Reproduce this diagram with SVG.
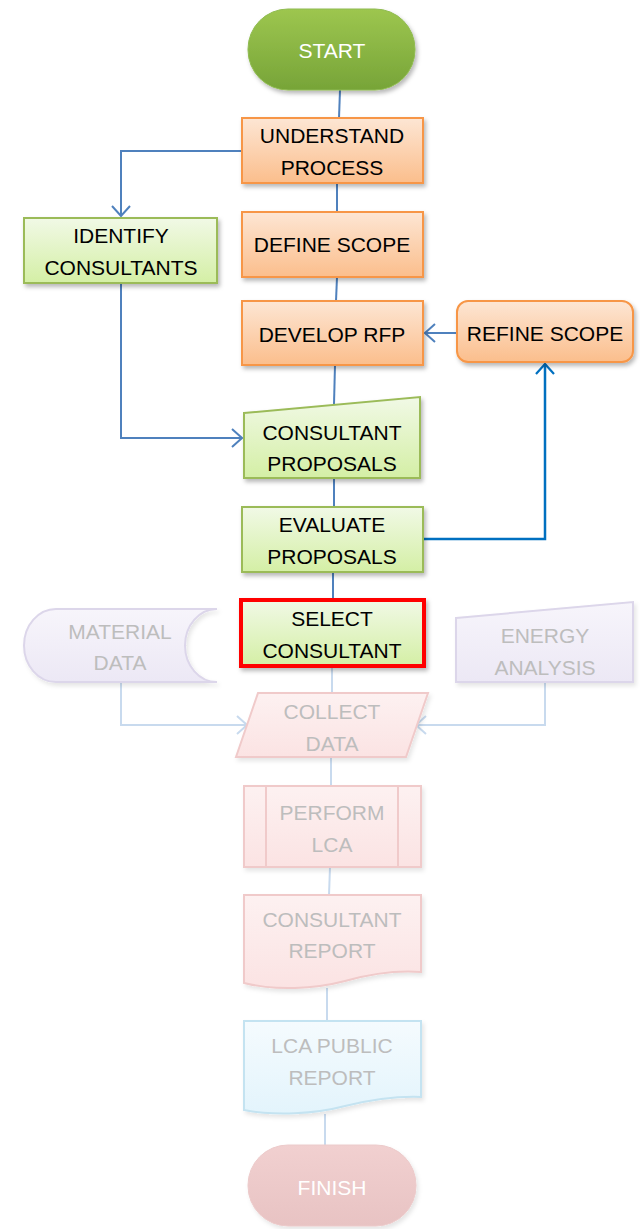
<svg xmlns="http://www.w3.org/2000/svg" width="640" height="1229" viewBox="0 0 640 1229">
<defs>
<linearGradient id="gStart" x1="0" y1="0" x2="0" y2="1"><stop offset="0" stop-color="#9dc64f"/><stop offset="1" stop-color="#77a438"/></linearGradient>
<linearGradient id="gOrange" x1="0" y1="0" x2="0" y2="1"><stop offset="0" stop-color="#fde6d4"/><stop offset="1" stop-color="#fbbe8c"/></linearGradient>
<linearGradient id="gGreen" x1="0" y1="0" x2="0" y2="1"><stop offset="0" stop-color="#f1f9e6"/><stop offset="1" stop-color="#d4efa5"/></linearGradient>
<linearGradient id="gLav" x1="0" y1="0" x2="0" y2="1"><stop offset="0" stop-color="#f7f5fb"/><stop offset="1" stop-color="#ece8f5"/></linearGradient>
<linearGradient id="gPink" x1="0" y1="0" x2="0" y2="1"><stop offset="0" stop-color="#fdf1f1"/><stop offset="1" stop-color="#fbe3e3"/></linearGradient>
<linearGradient id="gBlue" x1="0" y1="0" x2="0" y2="1"><stop offset="0" stop-color="#f5fbfe"/><stop offset="1" stop-color="#e3f4fc"/></linearGradient>
<linearGradient id="gFinish" x1="0" y1="0" x2="0" y2="1"><stop offset="0" stop-color="#f1d0d0"/><stop offset="1" stop-color="#e8c3c3"/></linearGradient>
<filter id="sh" x="-10%" y="-10%" width="125%" height="135%"><feDropShadow dx="2" dy="3" stdDeviation="2" flood-color="#000" flood-opacity="0.28"/></filter>
<filter id="shf" x="-10%" y="-10%" width="125%" height="135%"><feDropShadow dx="2" dy="3" stdDeviation="2" flood-color="#000" flood-opacity="0.1"/></filter>
<marker id="aBlue" viewBox="0 0 12 20" refX="11" refY="10" markerWidth="12" markerHeight="20" markerUnits="userSpaceOnUse" orient="auto"><path d="M1,1 L11,10 L1,19" fill="none" stroke="#4f81bd" stroke-width="2"/></marker>
<marker id="aDark" viewBox="0 0 12 20" refX="11" refY="10" markerWidth="12" markerHeight="20" markerUnits="userSpaceOnUse" orient="auto"><path d="M1,1 L11,10 L1,19" fill="none" stroke="#0070c0" stroke-width="2.2"/></marker>
<marker id="aFade" viewBox="0 0 12 20" refX="11" refY="10" markerWidth="12" markerHeight="20" markerUnits="userSpaceOnUse" orient="auto"><path d="M1,1 L11,10 L1,19" fill="none" stroke="#c8daee" stroke-width="2"/></marker>
<style>
text{font-family:"Liberation Sans",Arial,sans-serif;font-size:21px;text-anchor:middle}
.dk{fill:#000}
.fd{fill:#bdbdbd}
.wh{fill:#fff}
.or{fill:url(#gOrange);stroke:#f79646;stroke-width:2;filter:url(#sh)}
.gr{fill:url(#gGreen);stroke:#9bbb59;stroke-width:2;filter:url(#sh)}
.lav{fill:url(#gLav);stroke:#dcd6ea;stroke-width:2;filter:url(#shf)}
.pk{fill:url(#gPink);stroke:#f0caca;stroke-width:2;filter:url(#shf)}
.bl{fill:url(#gBlue);stroke:#c4e3f1;stroke-width:2;filter:url(#shf)}
.c{fill:none;stroke:#4f81bd;stroke-width:2}
.cd{fill:none;stroke:#0070c0;stroke-width:2.5}
.cf{fill:none;stroke:#c8daee;stroke-width:2}
</style>
</defs>
<g id="connectors">
<line class="c" x1="340" y1="90" x2="339" y2="118"/>
<line class="c" x1="337" y1="183" x2="337" y2="212"/>
<line class="c" x1="337" y1="277" x2="336" y2="301"/>
<line class="c" x1="335" y1="365" x2="334" y2="404"/>
<line class="c" x1="334" y1="478" x2="334" y2="507"/>
<line class="c" x1="333" y1="572" x2="333" y2="599"/>
<polyline class="c" points="241,151 121,151 121,216" marker-end="url(#aBlue)"/>
<polyline class="c" points="121,283 121,438 242,438" marker-end="url(#aBlue)"/>
<polyline class="cd" points="423,539 545,539 545,364" marker-end="url(#aDark)"/>
<line class="c" x1="457" y1="333" x2="425" y2="333" marker-end="url(#aBlue)"/>
<line class="cf" x1="332" y1="667" x2="332" y2="693"/>
<polyline class="cf" points="121,682 121,725 247,725" marker-end="url(#aFade)"/>
<polyline class="cf" points="545,682 545,725 416,725" marker-end="url(#aFade)"/>
<line class="cf" x1="331" y1="757" x2="331" y2="786"/>
<line class="cf" x1="330" y1="867" x2="329" y2="895"/>
<line class="cf" x1="327" y1="988" x2="327" y2="1021"/>
<line class="cf" x1="325" y1="1114" x2="325" y2="1145"/>
</g>
<g id="start">
<rect x="248" y="9" width="167" height="81" rx="40" fill="url(#gStart)" stroke="#8fbb50" stroke-width="1" filter="url(#sh)"/>
<text class="wh" x="332" y="58">START</text>
</g>
<g id="understand-process">
<rect class="or" x="242" y="118" width="181" height="65"/>
<text class="dk" x="332" y="143">UNDERSTAND</text>
<text class="dk" x="332" y="175">PROCESS</text>
</g>
<g id="identify-consultants">
<rect class="gr" x="24" y="218" width="193" height="65"/>
<text class="dk" x="121" y="243">IDENTIFY</text>
<text class="dk" x="121" y="275">CONSULTANTS</text>
</g>
<g id="define-scope">
<rect class="or" x="242" y="212" width="181" height="65"/>
<text class="dk" x="332" y="252">DEFINE SCOPE</text>
</g>
<g id="develop-rfp">
<rect class="or" x="242" y="301" width="181" height="64"/>
<text class="dk" x="332" y="342">DEVELOP RFP</text>
</g>
<g id="refine-scope">
<rect class="or" x="457" y="301" width="176" height="61" rx="11"/>
<text class="dk" x="545" y="341">REFINE SCOPE</text>
</g>
<g id="consultant-proposals">
<path class="gr" d="M244 413 L420 397 L420 478 L244 478 Z"/>
<text class="dk" x="332" y="440">CONSULTANT</text>
<text class="dk" x="332" y="471">PROPOSALS</text>
</g>
<g id="evaluate-proposals">
<rect class="gr" x="242" y="507" width="181" height="65"/>
<text class="dk" x="332" y="532">EVALUATE</text>
<text class="dk" x="332" y="564">PROPOSALS</text>
</g>
<g id="select-consultant">
<rect x="241" y="600" width="183" height="66" fill="url(#gGreen)" stroke="#ff0000" stroke-width="4" filter="url(#sh)"/>
<text class="dk" x="332" y="626">SELECT</text>
<text class="dk" x="332" y="658">CONSULTANT</text>
</g>
<g id="material-data">
<path class="lav" d="M56 609 H217 A32 36.5 0 0 0 217 682 H56 A32 36.5 0 0 1 56 609 Z"/>
<text class="fd" x="120" y="639">MATERIAL</text>
<text class="fd" x="120" y="670">DATA</text>
</g>
<g id="energy-analysis">
<path class="lav" d="M456 618 L633 602 L633 682 L456 682 Z"/>
<text class="fd" x="545" y="643">ENERGY</text>
<text class="fd" x="545" y="675">ANALYSIS</text>
</g>
<g id="collect-data">
<path class="pk" d="M258 693 H428 L406 757 H236 Z"/>
<text class="fd" x="332" y="719">COLLECT</text>
<text class="fd" x="332" y="751">DATA</text>
</g>
<g id="perform-lca">
<rect class="pk" x="244" y="786" width="177" height="81"/>
<line x1="266" y1="786" x2="266" y2="867" stroke="#f0caca" stroke-width="2"/>
<line x1="398" y1="786" x2="398" y2="867" stroke="#f0caca" stroke-width="2"/>
<text class="fd" x="332" y="820">PERFORM</text>
<text class="fd" x="332" y="852">LCA</text>
</g>
<g id="consultant-report">
<path class="pk" d="M244 895 H421 V972 C395 970 370 974 345 981 C315 989 275 991 244 983 Z"/>
<text class="fd" x="332" y="927">CONSULTANT</text>
<text class="fd" x="332" y="958">REPORT</text>
</g>
<g id="lca-public-report">
<path class="bl" d="M244 1021 H421 V1097 C395 1096 370 1100 345 1106 C315 1114 275 1116 244 1110 Z"/>
<text class="fd" x="332" y="1053">LCA PUBLIC</text>
<text class="fd" x="332" y="1085">REPORT</text>
</g>
<g id="finish">
<rect x="248" y="1145" width="168" height="81" rx="40" fill="url(#gFinish)" stroke="#eccaca" stroke-width="1" filter="url(#shf)"/>
<text class="wh" x="332" y="1195">FINISH</text>
</g>
</svg>
